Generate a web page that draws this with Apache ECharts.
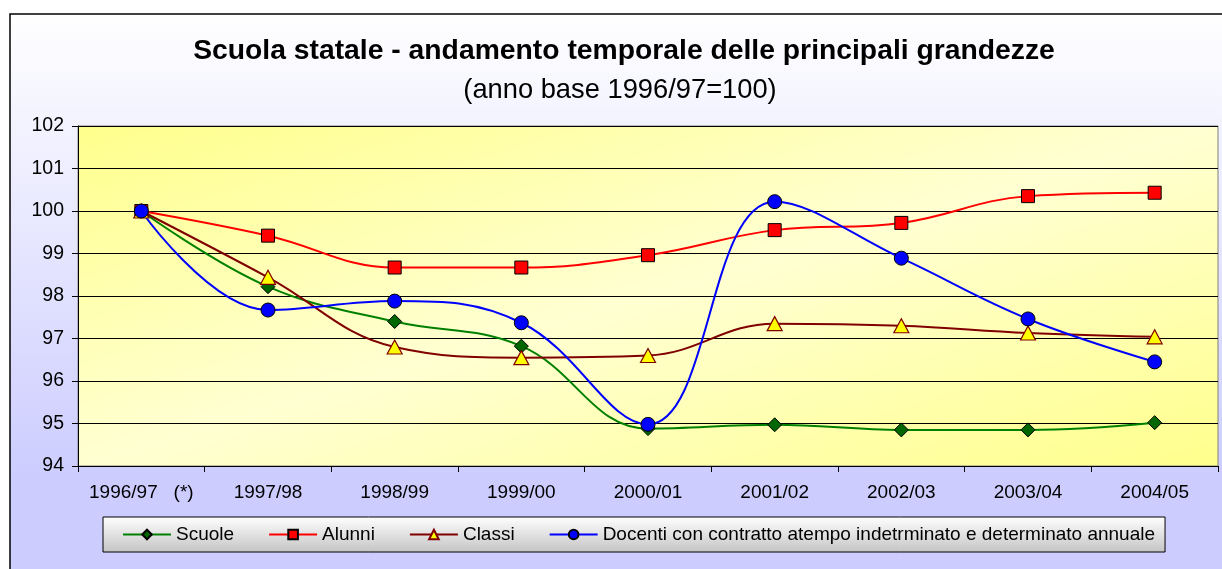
<!DOCTYPE html>
<html>
<head>
<meta charset="utf-8">
<script src="https://cdn.jsdelivr.net/npm/echarts@6/dist/echarts.min.js"></script>
<style>
  html, body { margin: 0; padding: 0; background: #fff; }
  #chart { width: 1222px; height: 569px; }
</style>
</head>
<body>
<div id="chart"></div>
<script>
// categorie (anni scolastici)
const anni = ['1996/97   (*)', '1997/98', '1998/99', '1999/00', '2000/01', '2001/02', '2002/03', '2003/04', '2004/05']

// serie (anno base 1996/97 = 100)
const scuole = [100, 98.22, 97.4, 96.82, 94.88, 94.97, 94.85, 94.85, 95.02]
const alunni = [100, 99.42, 98.67, 98.67, 98.96, 99.55, 99.72, 100.35, 100.43]
const classi = [100, 98.44, 96.8, 96.55, 96.6, 97.35, 97.3, 97.13, 97.04]
const docenti = [100, 97.67, 97.88, 97.37, 94.98, 100.22, 98.89, 97.46, 96.45]

const nomi = ['Scuole', 'Alunni', 'Classi', 'Docenti con contratto atempo indetrminato e determinato annuale']

const chart = echarts.init(document.getElementById('chart'))

const font = 'Arial, "Liberation Sans", sans-serif'

const option = {
  backgroundColor: '#ffffff',
  animation: false,
  graphic: [
    {
      type: 'rect',
      z: -10,
      silent: true,
      shape: { x: 10, y: 14, width: 1230, height: 570 },
      style: {
        fill: new echarts.graphic.LinearGradient(0, 0, 0, 1, [
          { offset: 0, color: '#ffffff' },
          { offset: 0.82, color: '#ccccff' },
          { offset: 1, color: '#ccccff' }
        ]),
        stroke: '#000000',
        lineWidth: 1.5
      }
    }
  ],
  title: [
    {
      text: 'Scuola statale - andamento temporale delle principali grandezze',
      left: 619,
      top: 32,
      textAlign: 'center',
      textStyle: { fontFamily: font, fontSize: 28.3, fontWeight: 'bold', color: '#000' }
    },
    {
      text: '(anno base 1996/97=100)',
      left: 615,
      top: 72,
      textAlign: 'center',
      textStyle: { fontFamily: font, fontSize: 27.3, fontWeight: 'normal', color: '#000' }
    }
  ],
  legend: {
    data: nomi,
    left: 103,
    top: 517,
    padding: [8, 10, 8, 19],
    itemGap: 34,
    itemWidth: 48,
    itemHeight: 12,
    borderColor: '#000',
    borderWidth: 1,
    backgroundColor: new echarts.graphic.LinearGradient(0, 0, 0, 1, [
      { offset: 0, color: '#ffffff' },
      { offset: 1, color: '#c4c4c4' }
    ]),
    textStyle: { fontFamily: font, fontSize: 19, color: '#000' }
  },
  grid: {
    left: 78,
    right: 4,
    top: 126,
    bottom: 103,
    show: true,
    borderColor: '#808080',
    borderWidth: 1,
    backgroundColor: new echarts.graphic.LinearGradient(0.418, -0.418, 0.582, 1.418, [
      { offset: 0, color: '#ffff8c' },
      { offset: 0.5, color: '#ffffd2' },
      { offset: 1, color: '#ffff8c' }
    ])
  },
  xAxis: {
    type: 'category',
    data: anni,
    boundaryGap: true,
    axisLine: { lineStyle: { color: '#000', width: 1 } },
    axisTick: { show: true, interval: 0, length: 6, lineStyle: { color: '#000' } },
    axisLabel: { interval: 0, fontFamily: font, fontSize: 19, color: '#000', margin: 17 }
  },
  yAxis: {
    type: 'value',
    min: 94,
    max: 102,
    interval: 1,
    axisLine: { show: true, lineStyle: { color: '#000', width: 1 } },
    axisTick: { show: true, length: 6, lineStyle: { color: '#000' } },
    axisLabel: { fontFamily: font, fontSize: 19.5, color: '#000', margin: 14 },
    splitLine: { lineStyle: { color: '#000', width: 1 } }
  },
  series: [
    {
      name: nomi[0],
      type: 'line',
      data: scuole,
      smooth: 0.4,
      symbol: 'diamond',
      symbolSize: [14, 14],
      lineStyle: { color: '#008000', width: 2 },
      itemStyle: { color: '#006600', borderColor: '#000', borderWidth: 1 }
    },
    {
      name: nomi[1],
      type: 'line',
      data: alunni,
      smooth: 0.4,
      symbol: 'rect',
      symbolSize: 13,
      lineStyle: { color: '#ff0000', width: 2 },
      itemStyle: { color: '#ff0000', borderColor: '#000', borderWidth: 1 }
    },
    {
      name: nomi[2],
      type: 'line',
      data: classi,
      smooth: 0.4,
      symbol: 'triangle',
      symbolSize: [15, 14],
      lineStyle: { color: '#800000', width: 2 },
      itemStyle: { color: '#ffff00', borderColor: '#800000', borderWidth: 1.2 }
    },
    {
      name: nomi[3],
      type: 'line',
      data: docenti,
      smooth: 0.4,
      symbol: 'circle',
      symbolSize: 14,
      lineStyle: { color: '#0000ff', width: 2 },
      itemStyle: { color: '#0000ff', borderColor: '#000', borderWidth: 1 }
    }
  ]
}

chart.setOption(option)
</script>
</body>
</html>
